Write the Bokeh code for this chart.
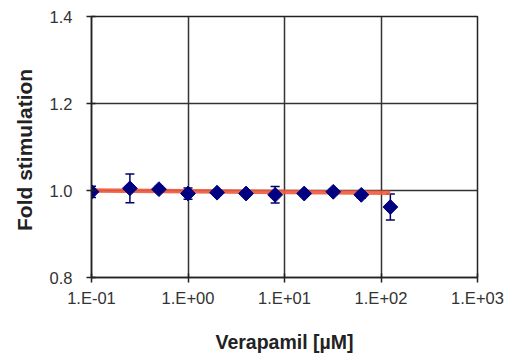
import math
from bokeh.plotting import figure
from bokeh.models import ColumnDataSource, Whisker, TeeHead, CustomJSTickFormatter, FixedTicker, PrintfTickFormatter
from bokeh.embed import file_html
from bokeh.resources import INLINE

# data
conc = [0.1, 0.25, 0.5, 1, 2, 4, 8, 16, 32, 62.5, 125]
fold = [0.997, 1.005, 1.003, 0.993, 0.995, 0.993, 0.990, 0.993, 0.997, 0.990, 0.962]
err = [0.013, 0.033, 0.006, 0.013, 0.005, 0.005, 0.019, 0.006, 0.006, 0.008, 0.030]
fit_x = [0.1, 125]
fit_y = [1.0, 0.995]
x_ticks = [0.1, 1, 10, 100, 1000]
y_ticks = [0.8, 1.0, 1.2, 1.4]

p = figure(frame_width=386, frame_height=261, x_axis_type="log", x_range=(0.1, 1000), y_range=(0.8, 1.4),
           output_backend="svg", toolbar_location=None,
           min_border_left=91, min_border_right=28, min_border_top=16, min_border_bottom=40)
p.background_fill_color = "white"
p.border_fill_color = "white"
p.outline_line_color = "#222222"
p.outline_line_width = 1.5

p.xaxis.ticker = FixedTicker(ticks=x_ticks)
p.yaxis.ticker = FixedTicker(ticks=y_ticks)
p.xaxis.formatter = CustomJSTickFormatter(code="""
const e = Math.round(Math.log10(tick));
const s = (e < 0 ? '-' : '+') + String(Math.abs(e)).padStart(2, '0');
return '1.E' + s;
""")
p.yaxis.formatter = PrintfTickFormatter(format="%.1f")

for ax in (p.xaxis, p.yaxis):
    ax.axis_line_color = "#222222"
    ax.axis_line_width = 1.5
    ax.major_tick_line_color = "#222222"
    ax.major_tick_line_width = 1.5
    ax.major_tick_in = 4
    ax.major_tick_out = 5
    ax.minor_tick_line_color = None
    ax.major_label_text_font = "Liberation Sans"
    ax.major_label_text_font_size = "16.5px"
    ax.major_label_text_color = "#333333"
    ax.axis_label_text_font = "Liberation Sans"
    ax.axis_label_text_font_style = "bold"
    ax.axis_label_text_color = "#222222"

p.xaxis.axis_label = "Verapamil [µM]"
p.xaxis.axis_label_text_font_size = "19.5px"
p.xaxis.axis_label_standoff = 21
p.xaxis.major_label_standoff = 6
p.yaxis.axis_label = "Fold  stimulation"
p.yaxis.axis_label_text_font_size = "21px"
p.yaxis.axis_label_standoff = 11
p.yaxis.major_label_standoff = 14

p.xgrid.grid_line_color = "#333333"
p.xgrid.grid_line_width = 1.5
p.ygrid.grid_line_color = "#333333"
p.ygrid.grid_line_width = 1.5
p.xgrid.ticker = FixedTicker(ticks=x_ticks)
p.ygrid.ticker = FixedTicker(ticks=y_ticks)

p.line(fit_x, fit_y, line_color="#F05A3C", line_width=4.5, line_alpha=0.9)

src = ColumnDataSource(data=dict(x=conc, y=fold,
                                 lo=[f - e for f, e in zip(fold, err)],
                                 hi=[f + e for f, e in zip(fold, err)]))
w = Whisker(source=src, base="x", upper="hi", lower="lo", line_color="#000066", line_width=1.5,
            upper_head=TeeHead(size=9, line_color="#000066", line_width=1.5),
            lower_head=TeeHead(size=9, line_color="#000066", line_width=1.5))
p.add_layout(w)
p.scatter("x", "y", source=src, marker="square", angle=math.pi / 4, size=10.5,
          fill_color="#000080", line_color="#000080")

open("out.html", "w").write(file_html(p, INLINE))
